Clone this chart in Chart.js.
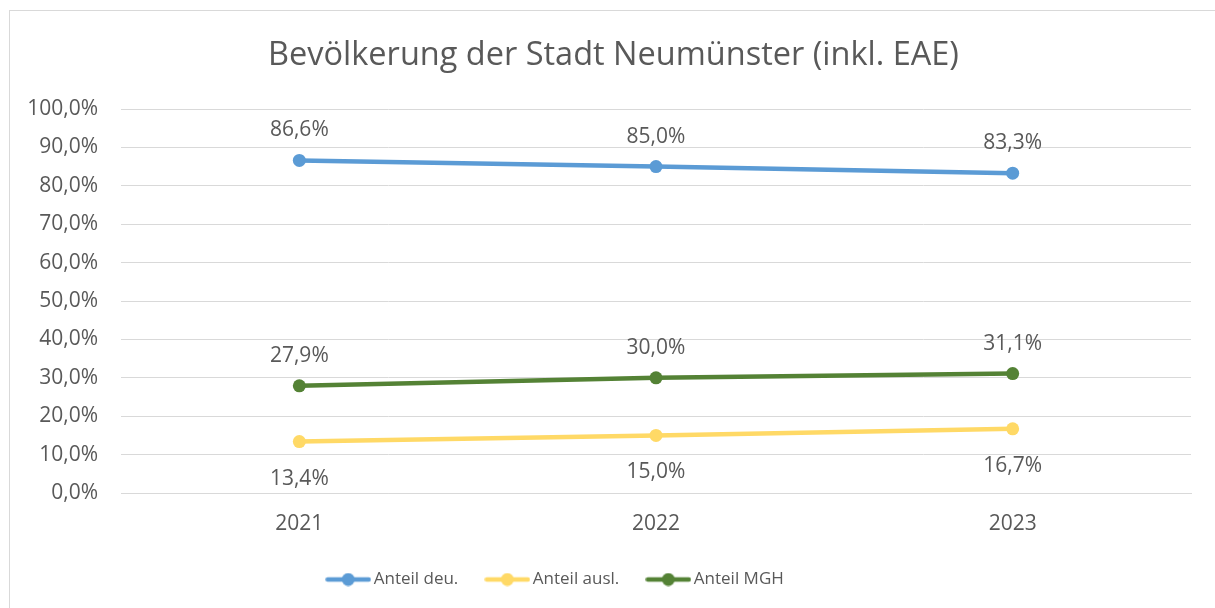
<!DOCTYPE html>
<html>
<head>
<meta charset="utf-8">
<script src="https://cdn.jsdelivr.net/npm/chart.js@4"></script>
<style>
  html, body { margin:0; padding:0; background:#fff; overflow:hidden; }
  #wrap { position:relative; width:1215px; height:608px; }
  #frame { position:absolute; left:9px; top:10px; width:1300px; height:700px;
           border:1px solid #d9d9d9; pointer-events:none; }
</style>
</head>
<body>
<div id="wrap">
  <canvas id="chart" width="1215" height="608"></canvas>
  <div id="frame"></div>
</div>
<script>
// Daten
const years      = ['2021', '2022', '2023'];
const anteilDeu  = [86.6, 85.0, 83.3];
const anteilAusl = [13.4, 15.0, 16.7];
const anteilMGH  = [27.9, 30.0, 31.1];
const seriesNames = ['Anteil deu.', 'Anteil ausl.', 'Anteil MGH'];
const labelSide   = ['above', 'below', 'above'];

const FONT  = '"Open Sans", "Noto Sans", sans-serif';
const GREY  = '#595959';
const fmt   = v => v.toFixed(1).replace('.', ',') + '%';

// Legenden-Symbol: Linie mit Punkt
function legendIcon(color) {
  const c = document.createElement('canvas');
  c.width = 46; c.height = 14;
  const g = c.getContext('2d');
  g.strokeStyle = color; g.lineWidth = 4.5; g.lineCap = 'round';
  g.beginPath(); g.moveTo(2.5, 7); g.lineTo(43.5, 7); g.stroke();
  g.fillStyle = color;
  g.beginPath(); g.arc(23, 7, 6.5, 0, Math.PI * 2); g.fill();
  return c;
}

const colors = ['#5b9bd5', '#ffd966', '#548235'];

// Datenbeschriftungen
const valueLabels = {
  id: 'valueLabels',
  afterDatasetsDraw(chart) {
    const ctx = chart.ctx;
    ctx.save();
    ctx.font = '21px ' + FONT;
    ctx.fillStyle = GREY;
    ctx.textAlign = 'center';
    ctx.textBaseline = 'middle';
    chart.data.datasets.forEach((ds, i) => {
      const meta = chart.getDatasetMeta(i);
      meta.data.forEach((pt, j) => {
        const dy = labelSide[i] === 'above' ? -30 : 37;
        ctx.fillText(fmt(ds.data[j]), pt.x, pt.y + dy);
      });
    });
    ctx.restore();
  }
};

// Legende etwas nach links, Titel etwas nach rechts (wie im Original)
const boxShift = {
  id: 'boxShift',
  afterLayout(chart) {
    chart.legend.left  -= 38;
    chart.legend.right -= 38;
    chart.titleBlock.left  += 18;
    chart.titleBlock.right += 18;
  }
};

const datasets = [anteilDeu, anteilAusl, anteilMGH].map((d, i) => ({
  label: seriesNames[i],
  data: d,
  borderColor: colors[i],
  backgroundColor: colors[i],
  borderWidth: 4.5,
  pointRadius: 6.5,
  pointHoverRadius: 6.5,
  pointBorderWidth: 0,
  tension: 0,
  pointStyle: 'circle',
  icon: legendIcon(colors[i])
}));

new Chart(document.getElementById('chart'), {
  type: 'line',
  data: { labels: years, datasets },
  plugins: [valueLabels, boxShift],
  options: {
    responsive: false,
    animation: false,
    layout: { padding: { left: 0, right: 24, top: 0, bottom: 10 } },
    plugins: {
      title: {
        display: true,
        text: 'Bevölkerung der Stadt Neumünster (inkl. EAE)',
        color: GREY,
        font: { family: FONT, size: 32.5, weight: 'normal', lineHeight: 1.2 },
        padding: { top: 36, bottom: 34 }
      },
      legend: {
        position: 'bottom',
        labels: {
          color: GREY,
          font: { family: FONT, size: 17 },
          usePointStyle: true,
          pointStyleWidth: 34,
          padding: 32,
          generateLabels: chart => chart.data.datasets.map((ds, i) => ({
            text: ds.label,
            pointStyle: ds.icon,
            fillStyle: ds.borderColor,
            strokeStyle: ds.borderColor,
            lineWidth: 0,
            fontColor: GREY,
            datasetIndex: i
          }))
        }
      },
      tooltip: { enabled: false }
    },
    scales: {
      x: {
        offset: true,
        grid: { display: false, drawTicks: false },
        border: { display: true, color: '#d9d9d9', width: 1 },
        ticks: { color: GREY, font: { family: FONT, size: 21 }, padding: 18 },
        afterFit: s => { s.height = 46; }
      },
      y: {
        min: 0, max: 100,
        ticks: {
          stepSize: 10,
          color: GREY,
          font: { family: FONT, size: 21 },
          padding: 23,
          callback: v => fmt(v)
        },
        grid: { color: '#d9d9d9', lineWidth: 1, drawTicks: false },
        border: { display: false },
        afterFit: s => { s.width = 121; }
      }
    }
  }
});
</script>
</body>
</html>
